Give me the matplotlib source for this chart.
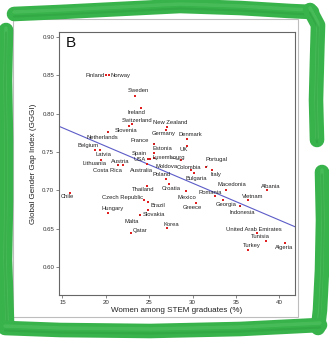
import matplotlib.pyplot as plt
import numpy as np
from matplotlib.lines import Line2D
from matplotlib.patches import Rectangle

plt.rcParams['font.family'] = ['Liberation Sans', 'DejaVu Sans']

countries = ['Finland', 'Norway', 'Sweden', 'Ireland', 'Switzerland', 'Slovenia',
             'Netherlands', 'Belgium', 'Latvia', 'Lithuania', 'Costa Rica', 'Austria',
             'Chile', 'Hungary', 'Czech Republic', 'Brazil', 'Thailand', 'Slovakia',
             'Malta', 'Qatar', 'Korea', 'Poland', 'Croatia', 'Mexico', 'Greece',
             'Colombia', 'Bulgaria', 'Portugal', 'Italy', 'Romania', 'Macedonia',
             'Albania', 'Vietnam', 'Georgia', 'Indonesia', 'United Arab Emirates',
             'Tunisia', 'Turkey', 'Algeria', 'New Zealand', 'Germany', 'Denmark',
             'UK', 'France', 'Estonia', 'Spain', 'USA', 'Luxembourg', 'Moldova',
             'Australia']
stem_women = [20.0, 20.4, 23.4, 24.0, 23.0, 22.7,
              20.2, 18.8, 19.3, 19.4, 21.4, 22.0,
              15.9, 20.3, 24.4, 24.8, 24.7, 24.8,
              23.9, 22.9, 27.0, 26.9, 27.3, 29.2, 30.4,
              29.8, 30.2, 31.5, 32.2, 32.6, 33.9,
              38.6, 36.4, 33.5, 35.5, 37.4,
              38.5, 36.4, 40.6, 27.0, 26.9, 29.4,
              29.4, 25.6, 25.6, 25.1, 24.8, 28.7, 25.6,
              24.7]
gggi = [0.850, 0.850, 0.823, 0.807, 0.786, 0.784,
        0.776, 0.753, 0.752, 0.740, 0.733, 0.733,
        0.697, 0.671, 0.687, 0.685, 0.706, 0.674,
        0.668, 0.645, 0.651, 0.715, 0.708, 0.699, 0.684,
        0.726, 0.723, 0.730, 0.727, 0.693, 0.701,
        0.700, 0.687, 0.687, 0.680, 0.645,
        0.634, 0.623, 0.631, 0.783, 0.779, 0.767,
        0.758, 0.761, 0.749, 0.741, 0.741, 0.739, 0.742,
        0.734]

# label placement: offset of text centre from the point, in pixels
offsets = {
    'Finland': (-11, 0), 'Norway': (11, 0), 'Sweden': (3, 5), 'Ireland': (-4, -4),
    'Switzerland': (5, 3.5), 'Slovenia': (-3.5, -4.5), 'Netherlands': (-5, -5.5),
    'Belgium': (-7, 4), 'Latvia': (4, -4.3), 'Lithuania': (-6, -3.6),
    'Costa Rica': (-11, -5.7), 'Austria': (-3, 4), 'Chile': (-2.7, -3.7),
    'Hungary': (4.3, 4), 'Czech Republic': (-21, 3), 'Brazil': (10, -3.3),
    'Thailand': (-3, -4), 'Slovakia': (6, -4.3), 'Malta': (-8.3, -6.7),
    'Qatar': (9, 2.4), 'Korea': (4.3, 4), 'Poland': (-4, 4), 'Croatia': (2, -4),
    'Mexico': (1, -6), 'Greece': (-3.7, -4.4), 'Colombia': (-2.3, 3.4),
    'Bulgaria': (1.5, -5.6), 'Portugal': (10.5, 8), 'Italy': (4, -5),
    'Romania': (-5, 3.7), 'Macedonia': (5.7, 5), 'Albania': (3.3, 4),
    'Vietnam': (4.4, 4), 'Georgia': (3.6, -3.6), 'Indonesia': (2, -6.3),
    'United Arab Emirates': (-3.4, 3.6), 'Tunisia': (-6, 4.3), 'Turkey': (3.7, 4),
    'Algeria': (0, -4), 'New Zealand': (4, 4.4), 'Germany': (-2, -4),
    'Denmark': (3, 4), 'UK': (-3.3, -4), 'France': (-14.5, 3.2),
    'Estonia': (8, 4.7), 'Spain': (-11, 5.4), 'USA': (-8, -1),
    'Luxembourg': (-12.7, 3.3), 'Moldova': (12, -8.3), 'Australia': (-5, -6),
}
leaders = ['Netherlands', 'Costa Rica', 'Malta', 'Portugal', 'Indonesia',
           'France', 'Spain', 'Luxembourg', 'Moldova']

W, H = 329, 343
fig = plt.figure(figsize=(W / 100, H / 100), dpi=100)
fig.patch.set_facecolor('white')

ax = fig.add_axes([59 / W, 1 - 295 / H, 236 / W, 263 / H])
x = np.array(stem_women)
y = np.array(gggi)

# linear fit across countries
slope, icept = np.polyfit(x, y, 1)
xs = np.array([14.6, 41.8])
ax.plot(xs, icept + slope * xs, color='#5c5cc8', lw=0.8, zorder=2)

ax.scatter(x, y, s=3.2, marker='s', color='#e02020', lw=0, zorder=3)

for name, xi, yi in zip(countries, x, y):
    dx, dy = offsets[name]
    ap = None
    if name in leaders:
        ap = dict(arrowstyle='-', lw=0.35, color='#222222', shrinkA=1.5, shrinkB=0.5)
    ax.annotate(name, (xi, yi), xytext=(dx, dy), textcoords='offset pixels',
                ha='center', va='center', fontsize=4.2, color='#222222',
                arrowprops=ap, zorder=4)

ax.text(0.028, 0.985, 'B', transform=ax.transAxes, fontsize=11,
        ha='left', va='top', color='#111111')

ax.set_xlim(14.6, 41.8)
ax.set_ylim(0.564, 0.906)
ax.set_xticks([15, 20, 25, 30, 35, 40])
ax.set_yticks([0.60, 0.65, 0.70, 0.75, 0.80, 0.85, 0.90])
ax.set_yticklabels([f'{v:.2f}' for v in [0.60, 0.65, 0.70, 0.75, 0.80, 0.85, 0.90]])
ax.tick_params(labelsize=4.4, length=2, width=0.5, pad=1.5,
               colors='#555555', labelcolor='#333333')
for s in ax.spines.values():
    s.set_color('#666666')
    s.set_linewidth(0.8)
ax.set_xlabel('Women among STEM graduates (%)', fontsize=5.8, color='#222222', labelpad=1.5)
ax.set_ylabel('Global Gender Gap Index (GGGI)', fontsize=5.8, color='#222222', labelpad=4)


def fig_pts(pts):
    p = np.array(pts, dtype=float)
    return p[:, 0] / W, 1 - p[:, 1] / H


# thin border of the inset picture
fig.add_artist(Rectangle((13 / W, 1 - 317 / H), 285 / W, 298 / H,
                         transform=fig.transFigure, fill=False,
                         edgecolor='#bdbdbd', lw=0.8))

# hand-painted green frame
green = '#38b24a'
strokes = [
    [(14, 14), (60, 12), (120, 9), (180, 6), (240, 8), (290, 11), (312, 12)],
    [(310, 10), (318, 25), (317, 60), (316, 100), (317, 140)],
    [(322, 172), (323, 220), (322, 270), (320, 310), (318, 328)],
    [(6, 30), (5, 80), (6, 140), (6, 200), (5, 260), (7, 322)],
    [(5, 328), (60, 330), (150, 331), (240, 329), (320, 325)],
]
for st in strokes:
    fx, fy = fig_pts(st)
    fig.add_artist(Line2D(fx, fy, transform=fig.transFigure, color=green,
                          lw=10.5, solid_capstyle='round', solid_joinstyle='round'))
    fig.add_artist(Line2D(fx, fy + 2 / H, transform=fig.transFigure, color='#55c465',
                          lw=2.5, alpha=0.55, solid_capstyle='round'))
    fig.add_artist(Line2D(fx, fy - 2.5 / H, transform=fig.transFigure, color='#2a9c3c',
                          lw=1.5, alpha=0.4, solid_capstyle='round'))

fig.savefig('out.png', dpi=100)
